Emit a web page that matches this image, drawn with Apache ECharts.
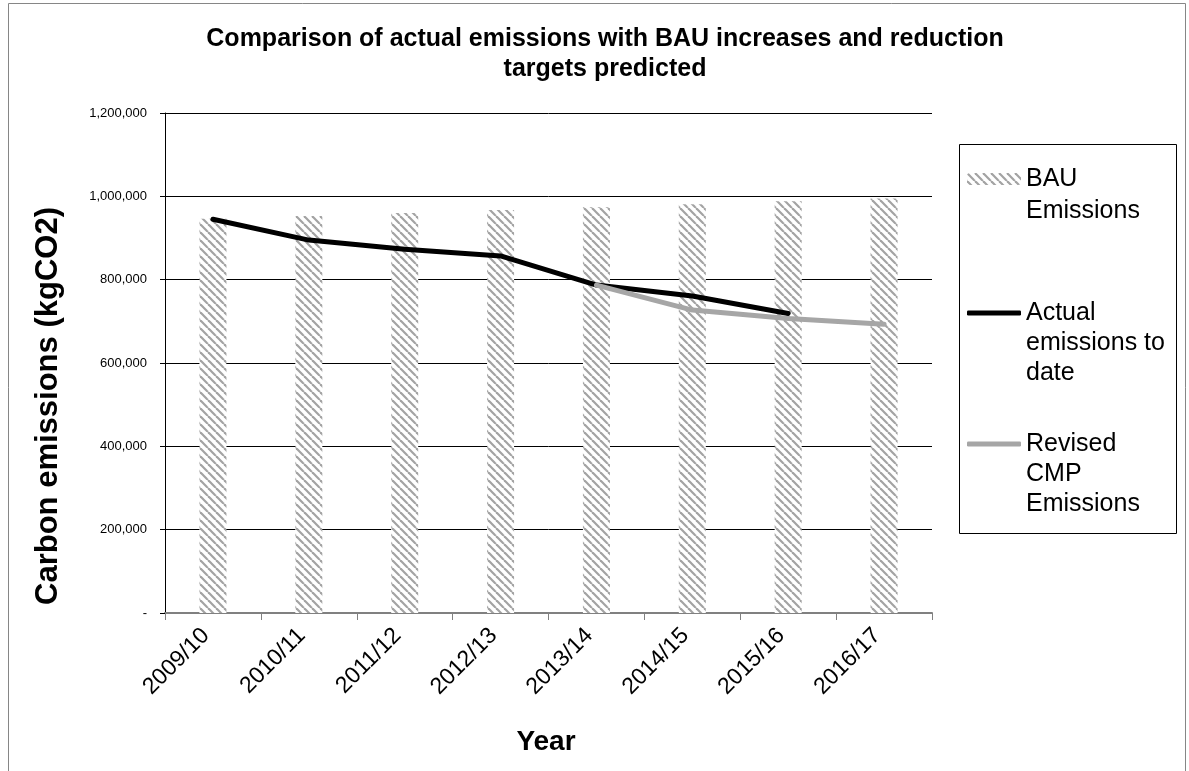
<!DOCTYPE html>
<html>
<head>
<meta charset="utf-8">
<title>Carbon emissions comparison</title>
<script src="https://cdn.jsdelivr.net/npm/echarts@6/dist/echarts.min.js"></script>
<style>
  html, body { margin: 0; padding: 0; background: #ffffff; }
  #chart { width: 1189px; height: 771px; }
</style>
</head>
<body>
<div id="chart"></div>
<script>
// Financial years on the category axis
const years = ['2009/10', '2010/11', '2011/12', '2012/13', '2013/14', '2014/15', '2015/16', '2016/17'];

// Business-as-usual projection (kgCO2)
const bauEmissions = [946000, 953000, 960000, 967000, 974000, 981000, 988000, 995000];

// Measured emissions so far (kgCO2)
const actualEmissions = [945000, 895000, 873000, 857000, 787000, 761000, 719000, null];

// Revised carbon management plan trajectory (kgCO2)
const revisedCmpEmissions = [null, null, null, null, 787000, 727000, 707000, 693000];

// Value axis range
const yMin = 0;
const yMax = 1200000;
const yStep = 200000;

// Series names and their wrapped legend labels
const seriesNames = ['BAU Emissions', 'Actual emissions to date', 'Revised CMP Emissions'];
const legendLines = {
  'BAU Emissions': ['BAU', 'Emissions'],
  'Actual emissions to date': ['Actual', 'emissions to', 'date'],
  'Revised CMP Emissions': ['Revised', 'CMP', 'Emissions']
};

// Diagonal grey hatching used to fill the BAU columns
function makeHatch() {
  const c = document.createElement('canvas');
  c.width = 8;
  c.height = 8;
  const g = c.getContext('2d');
  g.fillStyle = '#ffffff';
  g.fillRect(0, 0, 8, 8);
  g.strokeStyle = '#a3a3a3';
  g.lineWidth = 2.2;
  [-8, 0, 8].forEach(function (k) {
    g.beginPath();
    g.moveTo(k, 0);
    g.lineTo(k + 8, 8);
    g.stroke();
  });
  return c;
}
const hatch = { image: makeHatch(), repeat: 'repeat' };

const FONT = 'Liberation Sans, Arial, sans-serif';

// One legend block per series; leading blank lines keep the icon level with the first text line
function legendBlock(name, iconY, lineH, extra) {
  const lines = legendLines[name];
  const n = lines.length;
  const blockH = (2 * n - 1) * lineH;
  return Object.assign({
    data: [name],
    orient: 'vertical',
    left: 967,
    top: iconY - blockH / 2,
    padding: 0,
    itemWidth: 54,
    itemHeight: 12,
    selectedMode: false,
    formatter: function (nm) {
      const pad = new Array(n - 1).fill('').join('\n');
      return pad + '\n' + legendLines[nm].join('\n');
    },
    textStyle: {
      fontFamily: FONT,
      fontSize: 25,
      color: '#000000',
      lineHeight: lineH
    }
  }, extra || {});
}

const chart = echarts.init(document.getElementById('chart'), null, { renderer: 'canvas' });

chart.setOption({
  backgroundColor: '#ffffff',
  animation: false,
  title: {
    text: 'Comparison of actual emissions with BAU increases and reduction\ntargets predicted',
    left: 600,
    top: 19,
    textAlign: 'center',
    textStyle: {
      fontFamily: FONT,
      fontSize: 25,
      fontWeight: 'bold',
      color: '#000000',
      lineHeight: 30
    }
  },
  legend: [
    legendBlock(seriesNames[0], 179, 32),
    legendBlock(seriesNames[1], 313, 30, { icon: 'roundRect', itemHeight: 5 }),
    legendBlock(seriesNames[2], 444, 30, { icon: 'roundRect', itemHeight: 5 })
  ],
  grid: {
    left: 165,
    right: 1189 - 932,
    top: 113,
    bottom: 771 - 613,
    containLabel: false
  },
  xAxis: {
    type: 'category',
    data: years,
    boundaryGap: true,
    axisLine: { show: true, lineStyle: { color: '#808080', width: 2 } },
    axisTick: { show: true, alignWithLabel: false, length: 7, lineStyle: { color: '#808080', width: 1 } },
    axisLabel: {
      rotate: 45,
      margin: 12,
      interval: 0,
      padding: [0, 10, 0, 0],
      fontFamily: FONT,
      fontSize: 23,
      color: '#000000'
    },
    splitLine: { show: false }
  },
  yAxis: {
    type: 'value',
    min: yMin,
    max: yMax,
    interval: yStep,
    axisLine: { show: true, lineStyle: { color: '#000000', width: 1 } },
    axisTick: { show: true, inside: false, length: 5, lineStyle: { color: '#000000' } },
    axisLabel: {
      margin: 18,
      fontFamily: FONT,
      fontSize: 13,
      color: '#000000',
      formatter: function (v) {
        return v === 0 ? '-' : v.toLocaleString('en-US');
      }
    },
    splitLine: { show: true, lineStyle: { color: '#000000', width: 1 } }
  },
  graphic: [
    {
      type: 'rect',
      silent: true,
      shape: { x: 8.5, y: 3.5, width: 1177, height: 800 },
      style: { fill: 'none', stroke: '#868686', lineWidth: 1 },
      z: -10
    },
    {
      type: 'rect',
      silent: true,
      shape: { x: 959.5, y: 144.5, width: 217, height: 389 },
      style: { fill: 'none', stroke: '#000000', lineWidth: 1 },
      z: -5
    },
    {
      type: 'text',
      silent: true,
      x: 48,
      y: 406,
      rotation: Math.PI / 2,
      style: {
        text: 'Carbon emissions (kgCO2)',
        font: 'bold 31px ' + FONT,
        fill: '#000000',
        textAlign: 'center',
        textVerticalAlign: 'middle'
      }
    },
    {
      type: 'text',
      silent: true,
      x: 546,
      y: 742,
      style: {
        text: 'Year',
        font: 'bold 28px ' + FONT,
        fill: '#000000',
        textAlign: 'center',
        textVerticalAlign: 'middle'
      }
    }
  ],
  series: [
    {
      name: seriesNames[0],
      type: 'bar',
      data: bauEmissions,
      barWidth: 27,
      itemStyle: { color: hatch, borderWidth: 0 },
      z: 1
    },
    {
      name: seriesNames[1],
      type: 'line',
      data: actualEmissions,
      symbol: 'none',
      showSymbol: false,
      connectNulls: false,
      itemStyle: { color: '#000000' },
      lineStyle: { color: '#000000', width: 5, cap: 'round', join: 'round' },
      z: 3
    },
    {
      name: seriesNames[2],
      type: 'line',
      data: revisedCmpEmissions,
      symbol: 'none',
      showSymbol: false,
      connectNulls: false,
      itemStyle: { color: '#a6a6a6' },
      lineStyle: { color: '#a6a6a6', width: 5, cap: 'round', join: 'round' },
      z: 4
    }
  ]
});
</script>
</body>
</html>
